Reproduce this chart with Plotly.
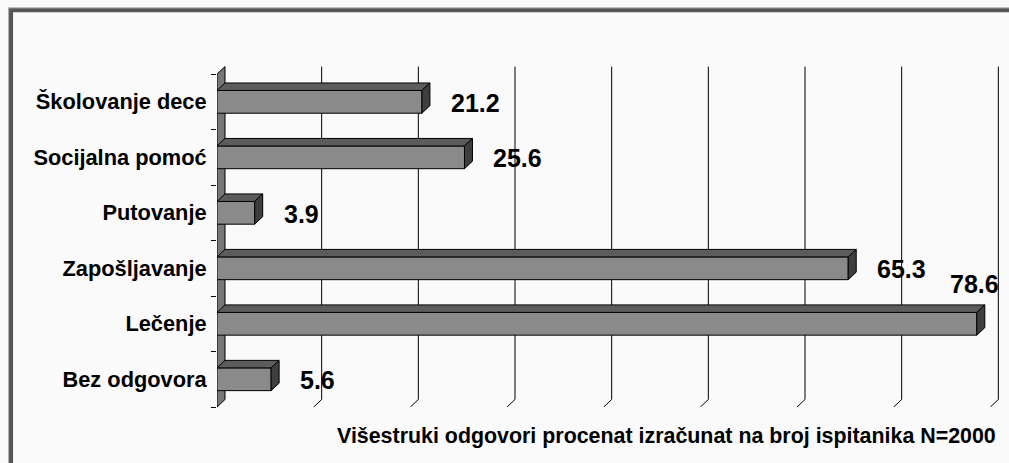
import plotly.graph_objects as go

# ---- data ----
categories = ["Školovanje dece", "Socijalna pomoć", "Putovanje",
              "Zapošljavanje", "Lečenje", "Bez odgovora"]
values = [21.2, 25.6, 3.9, 65.3, 78.6, 5.6]
grid_ticks = [10, 20, 30, 40, 50, 60, 70, 80]
axis_title = "Višestruki odgovori procenat izračunat na broj ispitanika N=2000"

# ---- geometry / style ----
W, H = 1009, 463
UX = 9.67          # px per value unit
UY = 55.45         # px per category row
X_MAX = 81.0
Y_TOP, Y_BOT = -0.7, 5.5
ML = 217
MT = 63.2
PW = X_MAX * UX
PH = (Y_BOT - Y_TOP) * UY
MR = W - ML - PW
MB = H - MT - PH
DX = 8.0 / UX      # depth offset in value units
DY = 7.5 / UY      # depth offset in category units
BW = 0.41          # bar thickness
FONT = "Arial, Liberation Sans, sans-serif"

pos = list(range(len(categories)))
n = len(categories)

fig = go.Figure()

# front faces
fig.add_trace(go.Bar(
    x=values, y=pos, orientation="h", width=BW,
    marker=dict(color="#8a8a8a", line=dict(color="black", width=1)),
    hoverinfo="skip", showlegend=False))

# top faces and side faces of the 3D bars
tx, ty, sx, sy = [], [], [], []
for v, p in zip(values, pos):
    t = p - BW / 2
    b = p + BW / 2
    tx += [0, v, v + DX, DX, 0, None]
    ty += [t, t, t - DY, t - DY, t, None]
    sx += [v, v, v + DX, v + DX, v, None]
    sy += [t, b, b - DY, t - DY, t, None]
fig.add_trace(go.Scatter(x=tx, y=ty, mode="lines", fill="toself",
                         fillcolor="#5c5c5c", line=dict(color="black", width=1),
                         hoverinfo="skip", showlegend=False))
fig.add_trace(go.Scatter(x=sx, y=sy, mode="lines", fill="toself",
                         fillcolor="#3e3e3e", line=dict(color="black", width=1),
                         hoverinfo="skip", showlegend=False))

shapes = []
# back wall (category axis wall)
y0, y1 = -0.5, n - 0.5
shapes.append(dict(type="path", xref="x", yref="y", layer="below",
                   path=f"M 0 {y0} L {DX} {y0 - DY} L {DX} {y1 - DY} L 0 {y1} Z",
                   fillcolor="#777777", line=dict(color="black", width=1)))
# gridlines on the back plane with slanted floor ticks
for g in grid_ticks:
    shapes.append(dict(type="path", xref="x", yref="y", layer="below",
                       path=f"M {g + DX} {y0 - DY} L {g + DX} {y1 - DY} L {g} {y1}",
                       line=dict(color="black", width=1)))

# outer frame
def px2paper_x(px):
    return (px - ML) / PW

def px2paper_y(py):
    return (MT + PH - py) / PH

shapes.append(dict(type="rect", xref="paper", yref="paper", layer="below",
                   x0=px2paper_x(8.5), y0=px2paper_y(480), x1=px2paper_x(1030), y1=px2paper_y(8.0),
                   line=dict(color="#a8a8a8", width=1)))
shapes.append(dict(type="rect", xref="paper", yref="paper", layer="below",
                   x0=px2paper_x(11), y0=px2paper_y(480), x1=px2paper_x(1030), y1=px2paper_y(10.6),
                   line=dict(color="#555555", width=4)))

annotations = []
for v, p in zip(values, pos):
    if v * UX + 31 + 50 > PW:
        annotations.append(dict(x=v, y=p, xref="x", yref="y", text=f"{v:.1f}",
                                xanchor="right", yanchor="middle", xshift=24, yshift=40,
                                showarrow=False,
                                font=dict(family=FONT, size=25, color="black", weight="bold")))
    else:
        annotations.append(dict(x=v, y=p, xref="x", yref="y", text=f"{v:.1f}",
                                xanchor="left", yanchor="middle", xshift=27, yshift=-1,
                                showarrow=False,
                                font=dict(family=FONT, size=25, color="black", weight="bold")))
annotations.append(dict(x=1, y=0, xref="paper", yref="paper", text=axis_title,
                        xanchor="right", yanchor="middle", xshift=-2, yshift=-29,
                        showarrow=False,
                        font=dict(family=FONT, size=21.4, color="black", weight="bold")))

fig.update_layout(
    width=W, height=H,
    margin=dict(l=ML, r=MR, t=MT, b=MB, pad=0),
    paper_bgcolor="#fafafa", plot_bgcolor="rgba(0,0,0,0)",
    shapes=shapes, annotations=annotations,
    showlegend=False,
    xaxis=dict(range=[0, X_MAX], showgrid=False, zeroline=False, showline=False,
               showticklabels=False, ticks="", fixedrange=True),
    yaxis=dict(range=[Y_BOT, Y_TOP], showgrid=False, zeroline=False, showline=False,
               tickmode="array", tickvals=pos, ticktext=categories,
               ticks="outside", ticklen=0, ticklabelstandoff=5,
               tickfont=dict(family=FONT, size=21.8, color="black", weight="bold"),
               minor=dict(tickmode="linear", tick0=-0.5, dtick=1, ticks="outside",
                          ticklen=5, tickcolor="black", tickwidth=1, showgrid=False),
               fixedrange=True),
)

fig.write_html("out.html",
               config={"displayModeBar": False, "staticPlot": True},
               post_script="document.body.style.margin='0';document.body.style.overflow='hidden';"
                           "document.body.style.background='#fafafa';")
